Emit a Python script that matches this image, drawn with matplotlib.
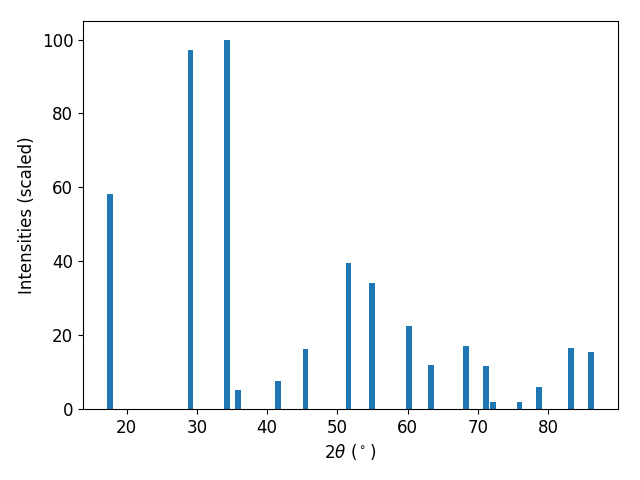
import matplotlib
matplotlib.use("Agg")
import matplotlib.pyplot as plt

two_theta = [17.63, 29.06, 34.25, 35.8, 41.56, 45.47, 51.58, 54.9, 60.24, 63.37,
             68.34, 71.18, 72.17, 75.94, 78.7, 83.25, 86.1]
intensity = [58.3, 97.3, 100.0, 5.0, 7.6, 16.1, 39.6, 34.2, 22.5, 11.9,
             17.1, 11.7, 1.9, 1.9, 6.0, 16.5, 15.4]

plt.rcParams['font.size'] = 12
fig, ax = plt.subplots(figsize=(6.4, 4.8), dpi=100)
ax.bar(two_theta, intensity, width=0.8)
ax.set_xlabel(r'$2\theta$ ($^\circ$)')
ax.set_ylabel('Intensities (scaled)')
fig.subplots_adjust(left=0.1297, right=0.9656, top=0.956, bottom=0.148)
fig.savefig('out.png', dpi=100)
